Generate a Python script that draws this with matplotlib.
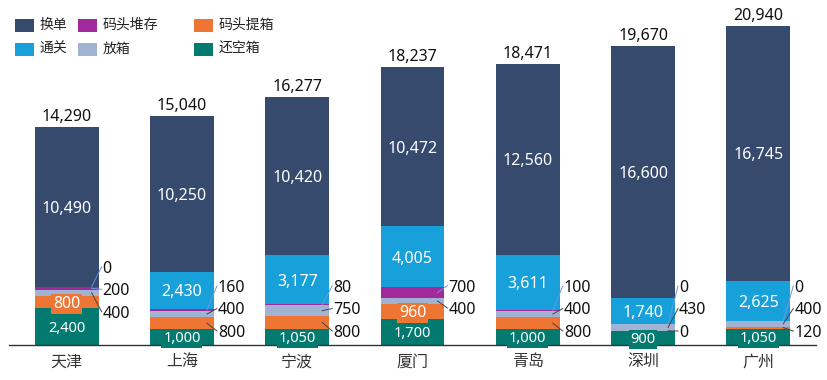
import matplotlib
matplotlib.use("Agg")
import matplotlib.pyplot as plt
from matplotlib.patches import Rectangle
from matplotlib.lines import Line2D

# ---------------- data ----------------
categories = ["天津", "上海", "宁波", "厦门", "青岛", "深圳", "广州"]
series_names = ["还空箱", "码头提箱", "放箱", "码头堆存", "通关", "换单"]  # bottom -> top
huan_kong_xiang = [2400, 1000, 1050, 1700, 1000, 900, 1050]
ma_tou_ti_xiang = [800, 800, 800, 960, 800, 0, 120]
fang_xiang = [400, 400, 750, 400, 400, 430, 400]
ma_tou_dui_cun = [200, 160, 80, 700, 100, 0, 0]
tong_guan = [0, 2430, 3177, 4005, 3611, 1740, 2625]
huan_dan = [10490, 10250, 10420, 10472, 12560, 16600, 16745]

series_values = [huan_kong_xiang, ma_tou_ti_xiang, fang_xiang,
                 ma_tou_dui_cun, tong_guan, huan_dan]
colors = {
    "换单": "#364A6E",
    "码头堆存": "#A0299B",
    "码头提箱": "#EE7534",
    "通关": "#18A0DA",
    "放箱": "#A0B3D3",
    "还空箱": "#037A6F",
}
inside_series = {"还空箱", "通关", "换单"}
inside_extra = {("码头提箱", "天津"), ("码头提箱", "厦门")}
line_colors = {"通关": "#5B8FE0", "码头堆存": "#6C95E0",
               "放箱": "#444444", "码头提箱": "#444444"}

plt.rcParams['font.family'] = ['Noto Sans', 'Noto Sans CJK SC', 'DejaVu Sans']

W, H = 827, 380
fig = plt.figure(figsize=(W / 100, H / 100), dpi=100)
base_px = 344.5
ax = fig.add_axes([9 / W, 1 - base_px / H, 807 / W, 319.2 / H])
ax.set_xlim(-0.5, len(categories) - 0.5)
ax.set_ylim(0, 21000)

x = list(range(len(categories)))
bar_w = 0.555
bottoms = [0] * len(categories)
seg_info = []  # per series list of (bottom, value)
for name, vals in zip(series_names, series_values):
    ax.bar(x, vals, bottom=bottoms, width=bar_w, color=colors[name], linewidth=0, zorder=2)
    seg_info.append(list(zip(bottoms, vals)))
    bottoms = [b + v for b, v in zip(bottoms, vals)]
totals = bottoms

for s in ["left", "right", "top"]:
    ax.spines[s].set_visible(False)
ax.spines["bottom"].set_color("#333333")
ax.spines["bottom"].set_linewidth(1.0)
ax.set_yticks([])
ax.set_xticks(x)
ax.set_xticklabels(categories, fontsize=11.5, color="#333333")
ax.tick_params(axis="x", length=0, pad=7)

# totals
for i, t in enumerate(totals):
    ax.annotate(f"{t:,}", (i, t), xytext=(0, 6), textcoords="offset pixels",
                ha="center", va="baseline", fontsize=11.5, color="#111111")

to_disp = ax.transData.transform
fig_inv = fig.transFigure.inverted()

# labels
spacing = 22.5
min_y = H - base_px + 13.5  # display coords (origin bottom)
for i, cat in enumerate(categories):
    outside = []
    for si, name in enumerate(series_names):
        b, v = seg_info[si][i]
        c = b + v / 2
        is_inside = (name in inside_series and v > 0) or (name, cat) in inside_extra
        if is_inside:
            fs = 10.5 if name == "还空箱" else 11.5
            ax.text(i, c, f"{v:,}", ha="center", va="center_baseline", color="white",
                    fontsize=fs, zorder=4,
                    bbox=dict(boxstyle="square,pad=0.12", fc=colors[name], ec="none"))
        else:
            outside.append((name, v, c))
    if not outside:
        continue
    outside = outside[::-1]  # top to bottom
    n = len(outside)
    centers_px = [to_disp((i, c))[1] for _, _, c in outside]
    mean = sum(centers_px) / n
    pos = [mean + ((n - 1) / 2 - k) * spacing for k in range(n)]
    if pos[-1] < min_y:
        shift = min_y - pos[-1]
        pos = [p + shift for p in pos]
    right_px = to_disp((i + bar_w / 2, 0))[0]
    for (name, v, c), cy, ly in zip(outside, centers_px, pos):
        p0 = fig_inv.transform((right_px - 7, cy))
        p1 = fig_inv.transform((right_px + 3, ly))
        fig.add_artist(Line2D([p0[0], p1[0]], [p0[1], p1[1]], transform=fig.transFigure,
                              color=line_colors[name], linewidth=0.7, zorder=5))
        pt = fig_inv.transform((right_px + 4, ly))
        fig.text(pt[0], pt[1], f"{v:,}", ha="left", va="center_baseline",
                 fontsize=11.5, color="#111111", zorder=6)

# legend (manual layout)
legend_rows = [["换单", "码头堆存", "码头提箱"], ["通关", "放箱", "还空箱"]]
col_x = [14.7, 77.7, 194.0]
row_y = [25.5, 49.7]
for r, row in enumerate(legend_rows):
    for cidx, name in enumerate(row):
        x0 = col_x[cidx]
        yc = row_y[r]
        fig.add_artist(Rectangle((x0 / W, 1 - (yc + 6.5) / H), 19.5 / W, 13 / H,
                                 transform=fig.transFigure, facecolor=colors[name],
                                 edgecolor="none"))
        fig.text((x0 + 24.6) / W, 1 - yc / H, name, ha="left", va="center",
                 fontsize=10, color="#222222")

fig.savefig("out.png", dpi=100)
